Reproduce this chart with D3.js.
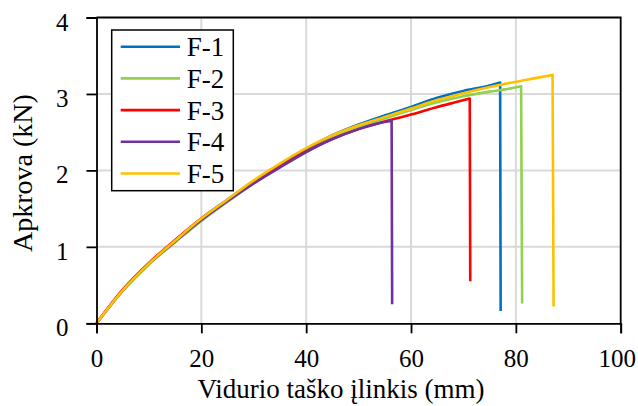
<!DOCTYPE html>
<html>
<head>
<meta charset="utf-8">
<script src="https://cdn.jsdelivr.net/npm/d3@7"></script>
<style>
  body { margin: 0; background: #fff; }
  text { font-family: "Liberation Serif", "Times New Roman", serif; fill: #000; }
</style>
</head>
<body>
<script>
const seriesNames = ["F-1", "F-2", "F-3", "F-4", "F-5"];
const colors = ["#0070C0", "#92D050", "#FF0000", "#7030A0", "#FFC000"];

// deflection (mm) and load (kN); last point = after failure
const f1x = [0, 5, 10, 15, 20, 25, 30, 35, 40, 45, 50, 55, 60, 65, 70, 75, 77, 77.1];
const f1y = [0, 0.43, 0.78, 1.08, 1.37, 1.62, 1.86, 2.08, 2.28, 2.46, 2.60, 2.72, 2.83, 2.95, 3.04, 3.11, 3.15, 0.16];
const f2x = [0, 5, 10, 15, 20, 25, 30, 35, 40, 45, 50, 55, 60, 65, 70, 75, 78, 81, 81.2];
const f2y = [0, 0.42, 0.77, 1.06, 1.34, 1.59, 1.83, 2.04, 2.24, 2.42, 2.56, 2.68, 2.79, 2.89, 2.97, 3.03, 3.06, 3.10, 0.26];
const f3x = [0, 5, 10, 15, 20, 25, 30, 35, 40, 45, 50, 55, 60, 65, 69, 71.2, 71.3];
const f3y = [0, 0.44, 0.79, 1.09, 1.37, 1.61, 1.84, 2.05, 2.25, 2.41, 2.54, 2.64, 2.73, 2.83, 2.90, 2.94, 0.55];
const f4x = [0, 5, 10, 15, 20, 25, 30, 35, 40, 45, 50, 54, 56.3, 56.4];
const f4y = [0, 0.43, 0.78, 1.07, 1.35, 1.60, 1.83, 2.04, 2.24, 2.41, 2.54, 2.62, 2.65, 0.25];
const f5x = [0, 5, 10, 15, 20, 25, 30, 35, 40, 45, 50, 55, 60, 65, 70, 75, 80, 84, 87, 87.2];
const f5y = [0, 0.43, 0.78, 1.08, 1.37, 1.62, 1.87, 2.09, 2.29, 2.46, 2.59, 2.70, 2.81, 2.92, 3.01, 3.09, 3.16, 3.21, 3.25, 0.22];

const xTicks = [0, 20, 40, 60, 80, 100];
const yTicks = [0, 1, 2, 3, 4];

const allX = [f1x, f2x, f3x, f4x, f5x];
const allY = [f1y, f2y, f3y, f4y, f5y];

const width = 638;
const height = 406;
const margin = { top: 17.5, right: 17.3, bottom: 82.7, left: 96.5 };

const svg = d3.select("body")
  .append("svg")
  .attr("width", width)
  .attr("height", height);

const x = d3.scaleLinear().domain([0, 100]).range([margin.left, width - margin.right]);
const y = d3.scaleLinear().domain([0, 4]).range([height - margin.bottom, margin.top]);

//Gridlines
svg.append("g")
  .selectAll("line")
  .data(xTicks.slice(1, -1))
  .enter()
  .append("line")
  .attr("x1", (d) => x(d)).attr("x2", (d) => x(d))
  .attr("y1", y(0)).attr("y2", y(4))
  .attr("stroke", "#d9d9d9").attr("stroke-width", 2);

svg.append("g")
  .selectAll("line")
  .data(yTicks.slice(1, -1))
  .enter()
  .append("line")
  .attr("x1", x(0)).attr("x2", x(100))
  .attr("y1", (d) => y(d)).attr("y2", (d) => y(d))
  .attr("stroke", "#d9d9d9").attr("stroke-width", 2);

//Frame on top and right
svg.append("path")
  .attr("d", `M${x(0)},${y(4)}H${x(100)}V${y(0)}`)
  .attr("fill", "none")
  .attr("stroke", "#000")
  .attr("stroke-width", 1.8);

//Curves: smooth loading part, then the straight drop at failure
const line = d3.line()
  .x((d) => x(d[0]))
  .y((d) => y(d[1]))
  .curve(d3.curveMonotoneX);

svg.append("g")
  .selectAll("path")
  .data(seriesNames)
  .enter()
  .append("path")
  .attr("d", (name, i) => {
    const pts = allX[i].map((v, j) => [v, allY[i][j]]);
    const last = pts[pts.length - 1];
    return line(pts.slice(0, -1)) + `L${x(last[0])},${y(last[1])}`;
  })
  .attr("fill", "none")
  .attr("stroke", (name, i) => colors[i])
  .attr("stroke-width", 2.6)
  .attr("stroke-linejoin", "round");

//Axes
const xAxis = svg.append("g")
  .attr("transform", `translate(0,${y(0)})`)
  .call(d3.axisBottom(x).tickValues(xTicks).tickFormat(d3.format("d")).tickSize(10).tickPadding(16));
const yAxis = svg.append("g")
  .attr("transform", `translate(${x(0)},0)`)
  .call(d3.axisLeft(y).tickValues(yTicks).tickFormat(d3.format("d")).tickSize(10).tickPadding(18));

[xAxis, yAxis].forEach((a) => {
  a.select(".domain").attr("stroke", "#000").attr("stroke-width", 1.8);
  a.selectAll(".tick line").attr("stroke", "#000").attr("stroke-width", 1.8);
  a.selectAll(".tick text")
    .style("font-family", '"Liberation Serif", serif')
    .style("font-size", "25px")
    .attr("fill", "#000");
});
yAxis.selectAll(".tick text").attr("dy", "0.5em");
// keep "100" inside the page like the reference
xAxis.selectAll(".tick text").filter((d) => d === 100).attr("dx", -4);

//Axis titles
svg.append("text")
  .attr("x", 341)
  .attr("y", 398)
  .attr("text-anchor", "middle")
  .style("font-size", "27px")
  .text("Vidurio taško įlinkis (mm)");

svg.append("text")
  .attr("transform", `translate(31.5,173) rotate(-90)`)
  .attr("text-anchor", "middle")
  .style("font-size", "28px")
  .text("Apkrova (kN)");

//Legend
const legend = svg.append("g").attr("transform", "translate(111.7,30)");
legend.append("rect")
  .attr("width", 121.6)
  .attr("height", 160.7)
  .attr("fill", "#fff")
  .attr("stroke", "#000")
  .attr("stroke-width", 1.5);

const items = legend.selectAll("g")
  .data(seriesNames)
  .enter()
  .append("g")
  .attr("transform", (d, i) => `translate(0,${16.7 + 31.7 * i})`);

items.append("line")
  .attr("x1", 9).attr("x2", 68.3)
  .attr("stroke", (d, i) => colors[i])
  .attr("stroke-width", 2.6);

items.append("text")
  .attr("x", 75)
  .attr("y", 9.5)
  .style("font-size", "27px")
  .text((d) => d);
</script>
</body>
</html>
